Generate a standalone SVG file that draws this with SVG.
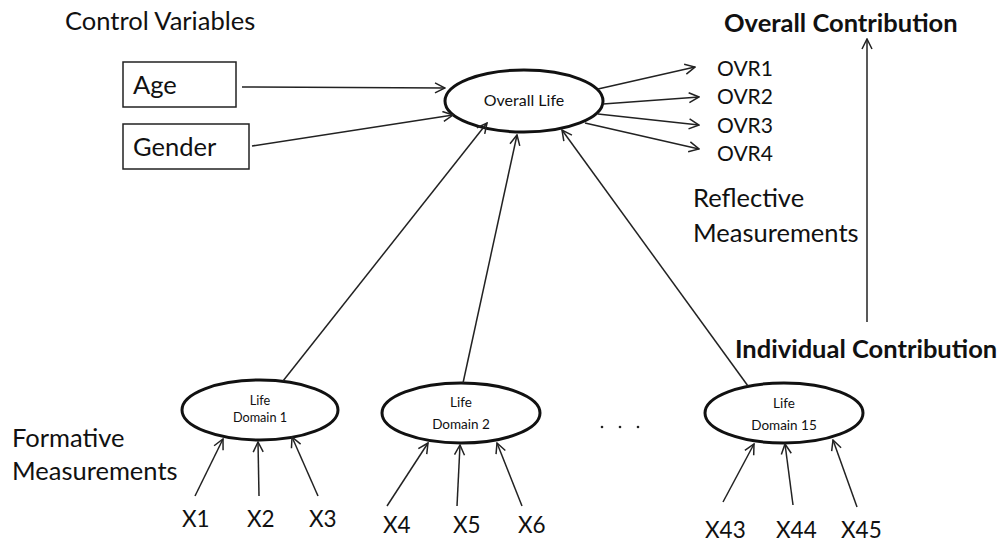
<svg xmlns="http://www.w3.org/2000/svg" width="1002" height="542" viewBox="0 0 1002 542">
<style>
text{font-family:Lato,"Open Sans","Liberation Sans",sans-serif;fill:#111}
.lg{font-size:25.5px}
.ov{font-size:21px}
.xl{font-size:22.5px}
.b{font-weight:bold;font-size:25.5px}
.sm{font-size:13.5px}
.box{fill:#fff;stroke:#222;stroke-width:1.5}
.ell{fill:#fff;stroke:#111;stroke-width:3}
.c line{stroke:#222;stroke-width:1.5;marker-end:url(#ah)}
</style>
<defs>
<marker id="ah" viewBox="0 0 12 12" refX="11" refY="6" markerWidth="12" markerHeight="12" markerUnits="userSpaceOnUse" orient="auto">
<path d="M1,1 L11,6 L1,11" fill="none" stroke="#222" stroke-width="1.5"/>
</marker>
</defs>
<rect width="1002" height="542" fill="#fff"/>
<text x="65" y="30" class="lg">Control Variables</text>
<text x="724" y="32" class="b">Overall Contribution</text>
<text x="735" y="358" class="b">Individual Contribution</text>
<text x="693" y="207" class="lg">Reflective</text>
<text x="693" y="242" class="lg">Measurements</text>
<text x="12" y="447" class="lg">Formative</text>
<text x="12" y="480" class="lg">Measurements</text>
<g id="age"><rect class="box" x="123" y="62" width="113" height="45"/><text x="133" y="94" class="lg">Age</text></g>
<g id="gender"><rect class="box" x="123" y="124" width="126" height="45"/><text x="133" y="156" class="lg">Gender</text></g>
<g id="overall"><ellipse class="ell" cx="524" cy="101" rx="79" ry="31"/><text x="524" y="106" text-anchor="middle" style="font-size:16px">Overall Life</text></g>
<g id="ovr"><text x="717" y="76" class="ov">OVR1</text><text x="717" y="104" class="ov">OVR2</text><text x="717" y="133" class="ov">OVR3</text><text x="717" y="161" class="ov">OVR4</text></g>
<g id="ld1"><ellipse class="ell" cx="260" cy="410" rx="78" ry="30"/><text x="260" y="405" text-anchor="middle" style="font-size:12.7px">Life</text><text x="260" y="422" text-anchor="middle" style="font-size:12.7px">Domain 1</text></g>
<g id="ld2"><ellipse class="ell" cx="461" cy="413" rx="79" ry="30"/><text x="461" y="407" class="sm" text-anchor="middle">Life</text><text x="461" y="429" class="sm" text-anchor="middle">Domain 2</text></g>
<g id="ld15"><ellipse class="ell" cx="784" cy="413" rx="79" ry="30"/><text x="784" y="408" class="sm" text-anchor="middle">Life</text><text x="784" y="430" class="sm" text-anchor="middle">Domain 15</text></g>
<g id="dots"><circle cx="602" cy="427" r="1.3" fill="#222"/><circle cx="620" cy="427" r="1.3" fill="#222"/><circle cx="638" cy="427" r="1.3" fill="#222"/></g>
<g id="xs">
<text x="182" y="527" class="xl">X1</text><text x="247" y="527" class="xl">X2</text><text x="309" y="527" class="xl">X3</text>
<text x="383" y="533" class="xl">X4</text><text x="453" y="533" class="xl">X5</text><text x="518" y="533" class="xl">X6</text>
<text x="705" y="538" class="xl">X43</text><text x="776" y="538" class="xl">X44</text><text x="841" y="538" class="xl">X45</text>
</g>
<g id="connectors" class="c">
<line x1="242" y1="87" x2="445" y2="88"/>
<line x1="252" y1="146" x2="453" y2="115"/>
<line x1="598" y1="89" x2="695" y2="67"/>
<line x1="603" y1="104" x2="699" y2="97"/>
<line x1="598" y1="114" x2="699" y2="125"/>
<line x1="585" y1="123" x2="699" y2="149"/>
<line x1="867" y1="322" x2="867" y2="39"/>
<line x1="283" y1="381" x2="487" y2="123"/>
<line x1="463" y1="383" x2="517" y2="135"/>
<line x1="748" y1="386" x2="562" y2="130"/>
<line x1="195" y1="496" x2="223" y2="439"/>
<line x1="259" y1="496" x2="258" y2="442"/>
<line x1="318" y1="496" x2="292" y2="437"/>
<line x1="387" y1="506" x2="428" y2="443"/>
<line x1="457" y1="506" x2="460" y2="445"/>
<line x1="522" y1="506" x2="497" y2="443"/>
<line x1="723" y1="502" x2="754" y2="444"/>
<line x1="793" y1="505" x2="785" y2="444"/>
<line x1="857" y1="507" x2="833" y2="440"/>
</g>
</svg>
